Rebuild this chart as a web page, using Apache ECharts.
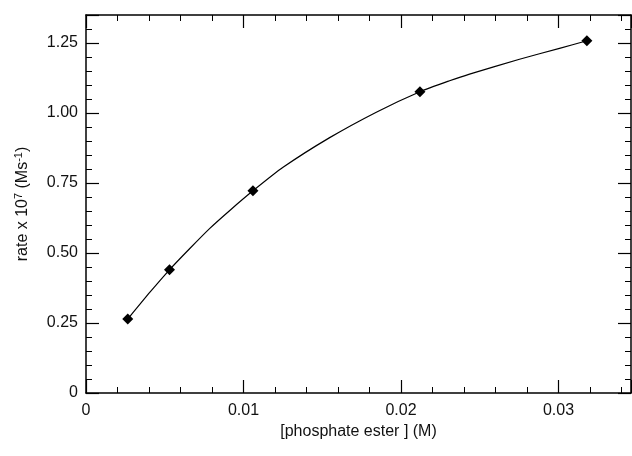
<!DOCTYPE html>
<html>
<head>
<meta charset="utf-8">
<script src="https://cdn.jsdelivr.net/npm/echarts@6/dist/echarts.min.js"></script>
<style>
  html, body { margin: 0; padding: 0; background: #fff; }
  #chart { width: 632px; height: 456px; }
</style>
</head>
<body>
<div id="chart"></div>
<script>
// measured points: [phosphate ester] (M) and rate x 10^7 (Ms^-1)
const esterConc = [0.00265, 0.0053, 0.0106, 0.0212, 0.0318]
const rateValues = [0.264, 0.440, 0.722, 1.076, 1.258]

// fitted curve
const fitConc = [0.00265, 0.00406, 0.0053, 0.00659, 0.00786, 0.00913, 0.0106, 0.01251,
  0.01547, 0.01843, 0.0212, 0.02308, 0.02435, 0.02752, 0.03006, 0.0318]
const fitRate = [0.264, 0.360, 0.440, 0.516, 0.588, 0.652, 0.722, 0.806,
  0.912, 1.003, 1.076, 1.115, 1.139, 1.192, 1.231, 1.258]

const xMin = 0
const xMax = 0.0346
const yMin = 0
const yMax = 1.35

const points = esterConc.map((x, i) => [x, rateValues[i]])
const curve = fitConc.map((x, i) => [x, fitRate[i]])

const font = 'Liberation Sans, Arial, sans-serif'
const axisLineStyle = { color: '#000', width: 1.5 }

function xAxisBase(position, showLabels) {
  return {
    type: 'value',
    position: position,
    min: xMin,
    max: xMax,
    interval: 0.01,
    axisLine: { show: true, onZero: false, lineStyle: axisLineStyle },
    axisTick: { show: true, inside: true, length: 13, lineStyle: { color: '#000', width: 1.2 } },
    minorTick: { show: true, splitNumber: 5, length: 6, lineStyle: { color: '#000', width: 1 } },
    splitLine: { show: false },
    minorSplitLine: { show: false },
    axisLabel: {
      show: showLabels,
      showMaxLabel: false,
      margin: 10,
      color: '#111',
      fontFamily: font,
      fontSize: 16
    }
  }
}

function yAxisBase(position, showLabels) {
  return {
    type: 'value',
    position: position,
    min: yMin,
    max: yMax,
    interval: 0.25,
    axisLine: { show: true, onZero: false, lineStyle: axisLineStyle },
    axisTick: { show: true, inside: true, length: 13, lineStyle: { color: '#000', width: 1.2 } },
    minorTick: { show: true, splitNumber: 5, length: 6, lineStyle: { color: '#000', width: 1 } },
    splitLine: { show: false },
    minorSplitLine: { show: false },
    axisLabel: {
      show: showLabels,
      showMaxLabel: false,
      margin: 8,
      color: '#111',
      fontFamily: font,
      fontSize: 16,
      formatter: v => (v === 0 ? '0' : v.toFixed(2))
    }
  }
}

const chart = echarts.init(document.getElementById('chart'), null, { renderer: 'canvas' })

const bottomX = xAxisBase('bottom', true)
bottomX.name = '[phosphate ester ] (M)'
bottomX.nameLocation = 'middle'
bottomX.nameGap = 26
bottomX.nameTextStyle = { color: '#111', fontFamily: font, fontSize: 16 }

const leftY = yAxisBase('left', true)
leftY.name = 'rate x 10{sup|7} (Ms{sup|-1})'
leftY.nameLocation = 'middle'
leftY.nameGap = 53
leftY.nameTextStyle = {
  color: '#111',
  fontFamily: font,
  fontSize: 16,
  lineHeight: 20,
  rich: {
    sup: { fontSize: 11, lineHeight: 11, verticalAlign: 'top', color: '#111', fontFamily: font }
  }
}

chart.setOption({
  animation: false,
  backgroundColor: '#fff',
  grid: { left: 86, right: 1, top: 15, bottom: 63, containLabel: false },
  xAxis: [bottomX, xAxisBase('top', false)],
  yAxis: [leftY, yAxisBase('right', false)],
  series: [
    {
      name: 'fit',
      type: 'line',
      data: curve,
      smooth: 0.2,
      showSymbol: false,
      lineStyle: { color: '#000', width: 1.2 },
      z: 2
    },
    {
      name: 'rate',
      type: 'scatter',
      data: points,
      symbol: 'diamond',
      symbolSize: 11,
      itemStyle: { color: '#000', opacity: 1 },
      z: 3
    }
  ]
})
</script>
</body>
</html>
